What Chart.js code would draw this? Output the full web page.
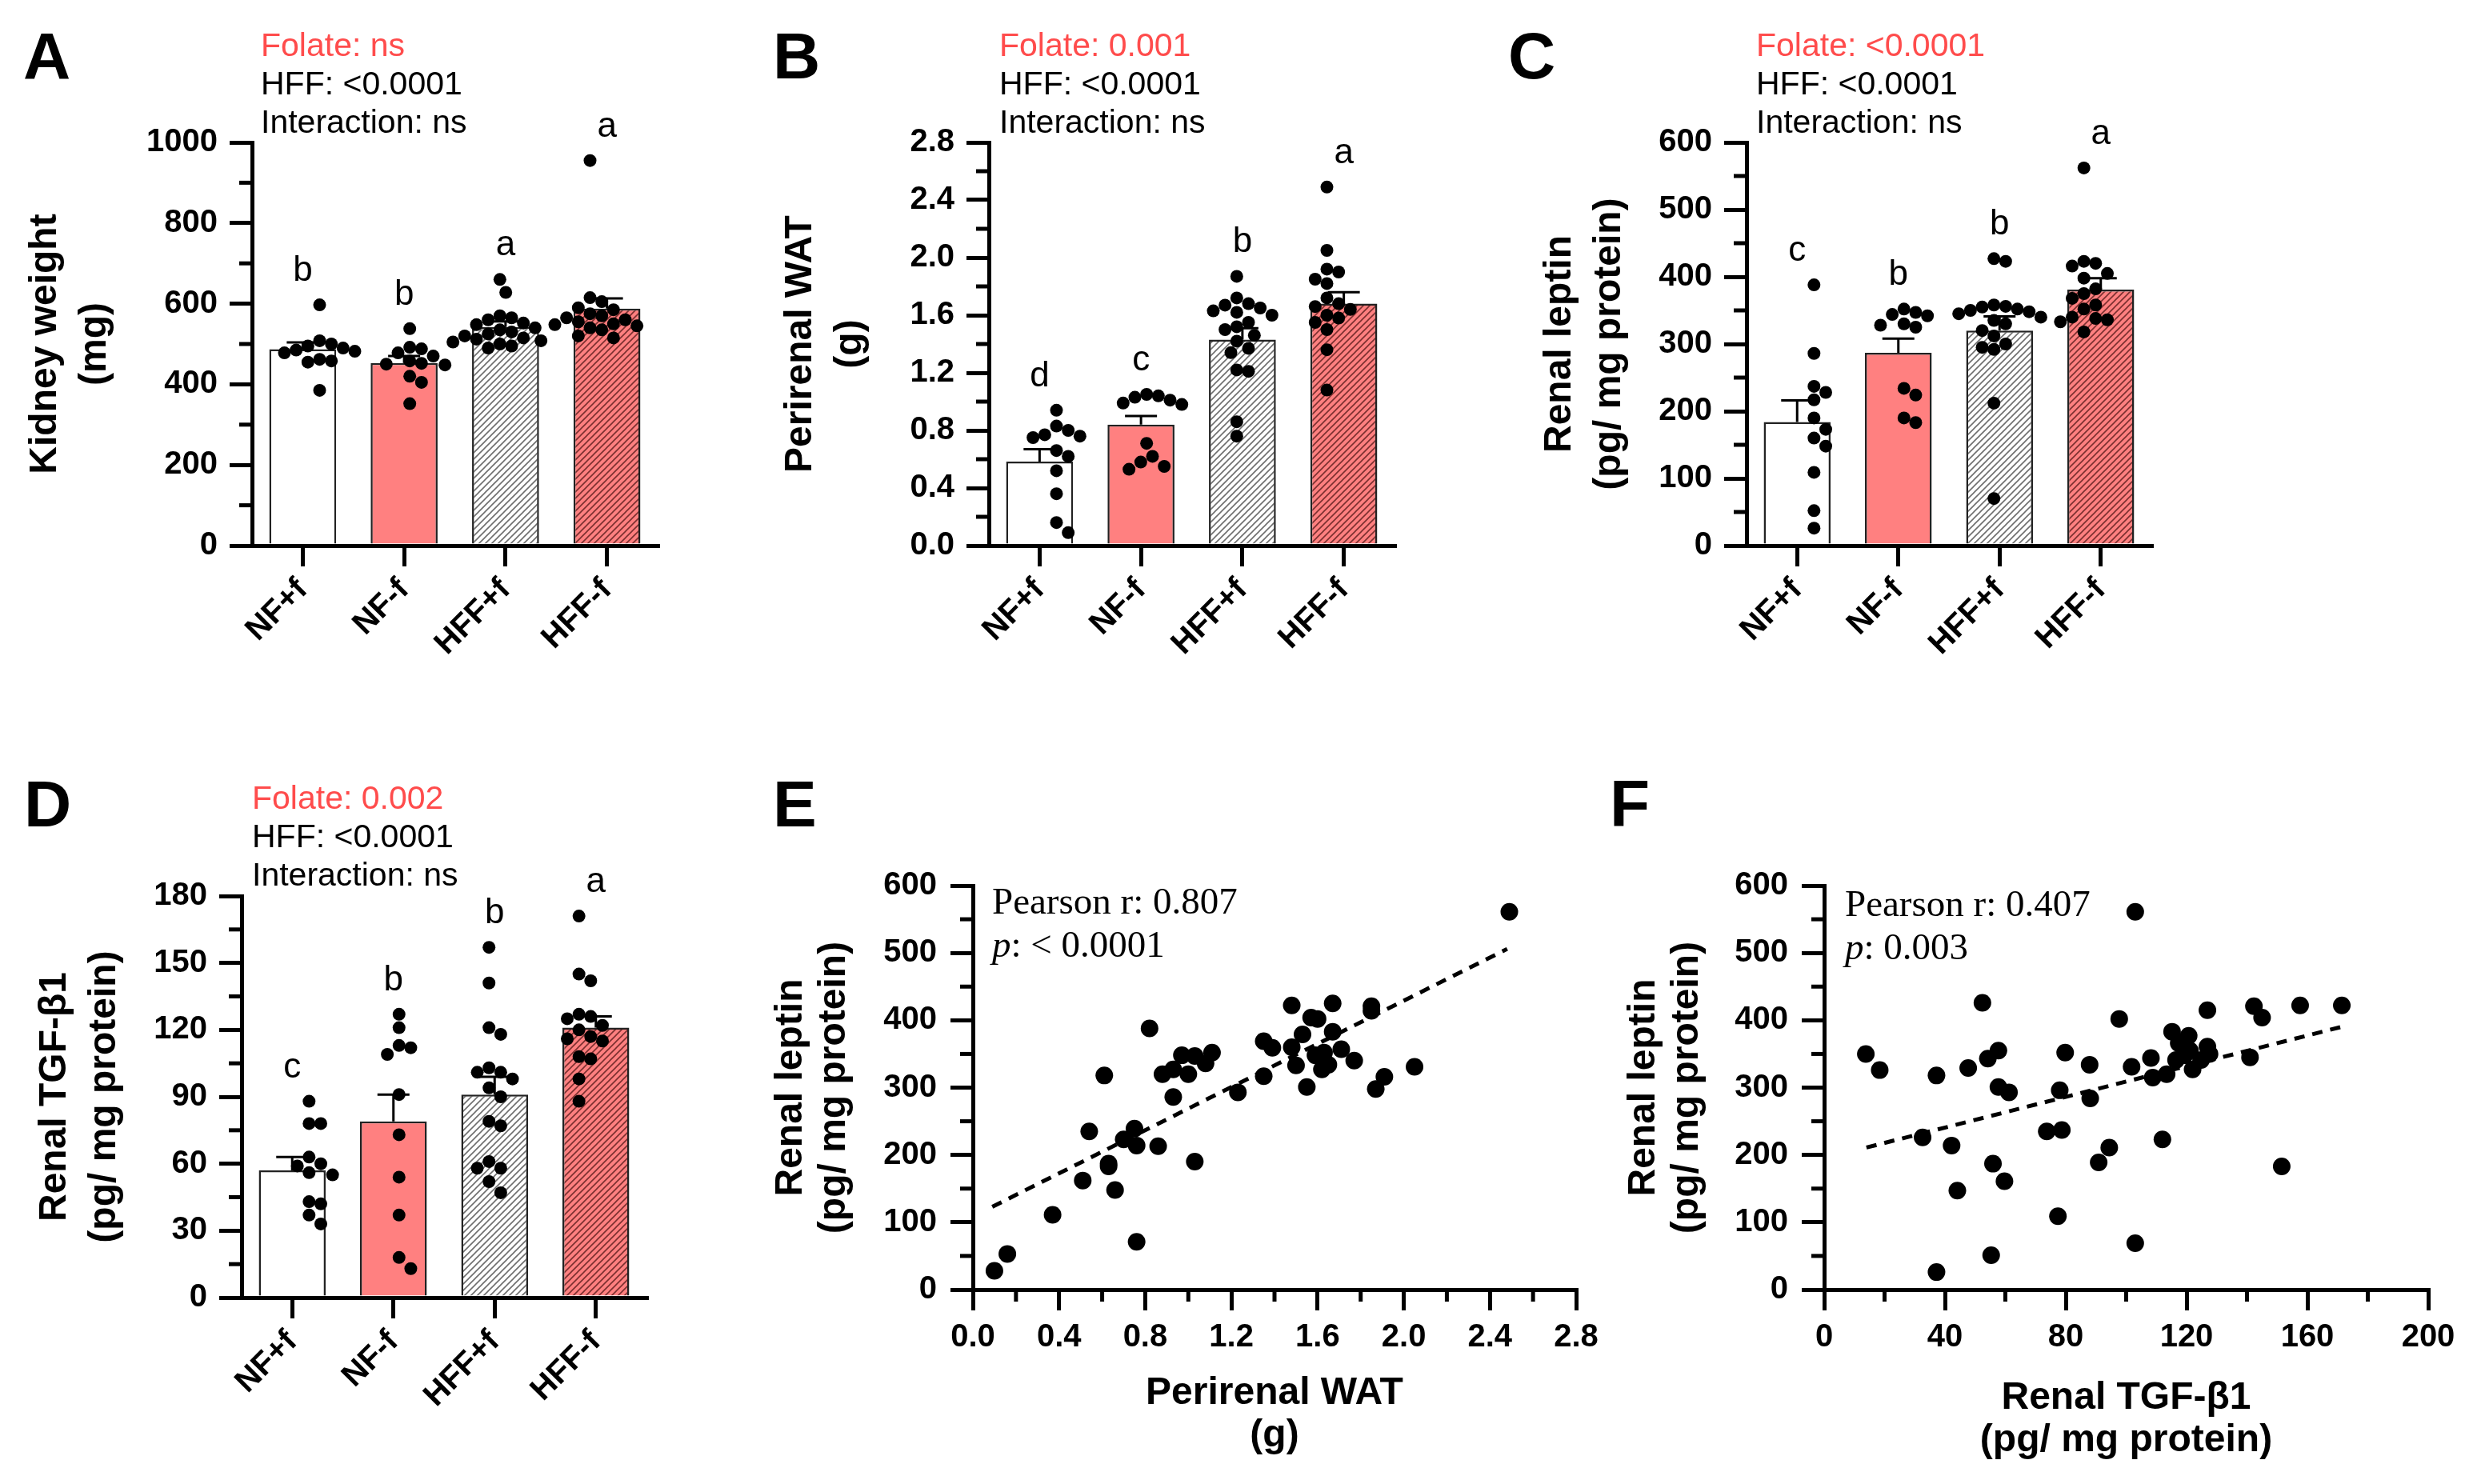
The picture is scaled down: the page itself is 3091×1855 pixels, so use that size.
<!DOCTYPE html>
<html>
<head>
<meta charset="utf-8">
<script src="https://cdn.jsdelivr.net/npm/chart.js@4.4.0/dist/chart.umd.min.js"></script>
<style>
html, body { margin: 0; padding: 0; background: #fff; }
body { width: 3091px; height: 1855px; position: relative; overflow: hidden; font-family: 'Liberation Sans', Arial, sans-serif; }
canvas { position: absolute; }
.lbl { position: absolute; font-weight: bold; font-size: 82px; line-height: 82px; color: #000; z-index: 2; }
.stats { position: absolute; font-size: 41px; line-height: 48px; color: #000; z-index: 2; white-space: nowrap; }
.stats .fol { color: #ff4c4c; }
.pear { position: absolute; font-family: 'Liberation Serif', 'Times New Roman', serif; font-size: 47px; line-height: 54px; color: #000; z-index: 2; white-space: nowrap; }
</style>
</head>
<body>
<div class="lbl" style="left:29px;top:29px">A</div>
<div class="lbl" style="left:966px;top:29px">B</div>
<div class="lbl" style="left:1885px;top:29px">C</div>
<div class="lbl" style="left:30px;top:964px">D</div>
<div class="lbl" style="left:966px;top:964px">E</div>
<div class="lbl" style="left:2012px;top:964px">F</div>

<div class="stats" style="left:326px;top:32px"><div class="fol">Folate: ns</div><div>HFF: &lt;0.0001</div><div>Interaction: ns</div></div>
<div class="stats" style="left:1249px;top:32px"><div class="fol">Folate: 0.001</div><div>HFF: &lt;0.0001</div><div>Interaction: ns</div></div>
<div class="stats" style="left:2195px;top:32px"><div class="fol">Folate: &lt;0.0001</div><div>HFF: &lt;0.0001</div><div>Interaction: ns</div></div>
<div class="stats" style="left:315px;top:973px"><div class="fol">Folate: 0.002</div><div>HFF: &lt;0.0001</div><div>Interaction: ns</div></div>

<div class="pear" style="left:1240px;top:1099px"><div>Pearson r: 0.807</div><div><i>p</i>: &lt; 0.0001</div></div>
<div class="pear" style="left:2306px;top:1102px"><div>Pearson r: 0.407</div><div><i>p</i>: 0.003</div></div>

<canvas id="cA"></canvas>
<canvas id="cB"></canvas>
<canvas id="cC"></canvas>
<canvas id="cD"></canvas>
<canvas id="cE"></canvas>
<canvas id="cF"></canvas>

<script>
const FONT = "'Liberation Sans', Arial, sans-serif";
const groups = ['NF+f', 'NF-f', 'HFF+f', 'HFF-f'];

// A - kidney weight (mg)
const kidneyMean = [487, 453, 542, 588];
const kidneySem = [17, 17, 14, 25];
const kidneyPts = [
    [597, 508, 500, 495, 490, 485, 482, 478, 462, 458, 455, 385],
    [538, 492, 488, 478, 470, 458, 452, 450, 448, 420, 405, 352],
    [660, 628, 570, 565, 560, 552, 548, 540, 535, 530, 525, 520, 515, 512, 508, 505, 500, 495, 490],
    [955, 615, 605, 590, 585, 575, 570, 565, 560, 555, 550, 548, 545, 540, 535, 520, 515]
];
const kidneyLetters = ['b', 'b', 'a', 'a'];

// B - perirenal WAT (g)
const watMean = [0.584, 0.84, 1.43, 1.68];
const watSem = [0.085, 0.06, 0.08, 0.08];
const watPts = [
    [0.94, 0.83, 0.80, 0.77, 0.76, 0.75, 0.66, 0.62, 0.52, 0.36, 0.16, 0.09],
    [1.05, 1.04, 1.03, 1.01, 0.99, 0.98, 0.71, 0.62, 0.58, 0.55, 0.53],
    [1.87, 1.72, 1.68, 1.67, 1.65, 1.63, 1.62, 1.60, 1.55, 1.52, 1.50, 1.46, 1.42, 1.37, 1.34, 1.22, 1.21, 0.86, 0.76],
    [2.49, 2.05, 1.92, 1.90, 1.85, 1.82, 1.72, 1.68, 1.66, 1.64, 1.60, 1.58, 1.55, 1.50, 1.36, 1.08]
];
const watLetters = ['d', 'c', 'b', 'a'];

// C - renal leptin (pg/mg protein)
const leptinMean = [184, 287, 320, 381];
const leptinSem = [32, 21, 21, 17];
const leptinPts = [
    [388, 286, 237, 228, 217, 190, 173, 160, 148, 109, 52, 26],
    [352, 347, 344, 342, 330, 328, 325, 234, 224, 190, 183],
    [427, 423, 358, 356, 355, 352, 350, 348, 345, 340, 335, 330, 320, 312, 300, 295, 292, 212, 70],
    [562, 423, 420, 416, 405, 398, 382, 375, 368, 358, 352, 340, 338, 336, 333, 318]
];
const leptinLetters = ['c', 'b', 'b', 'a'];

// D - renal TGF-b1 (pg/mg protein)
const tgfMean = [57, 79, 91, 121];
const tgfSem = [6, 12, 8, 5];
const tgfPts = [
    [88, 78, 78, 63, 60, 59, 56, 55, 43, 42, 37, 33],
    [127, 121, 113, 112, 109, 91, 73, 54, 37, 18, 13],
    [157, 141, 121, 118, 103, 101, 101, 98, 94, 90, 79, 77, 61, 58, 58, 52, 47],
    [171, 145, 142, 127, 126, 125, 122, 120, 117, 116, 115, 108, 107, 98, 88]
];
const tgfLetters = ['c', 'b', 'b', 'a'];

// E - perirenal WAT vs renal leptin
const eWat = [0.10, 0.16, 0.37, 0.51, 0.54, 0.61, 0.63, 0.63, 0.66, 0.70, 0.75, 0.76, 0.76, 0.82, 0.86, 0.88, 0.93, 0.93,
    0.97, 1.00, 1.03, 1.03, 1.08, 1.11, 1.23, 1.35, 1.35, 1.39, 1.48, 1.48, 1.50, 1.53, 1.55, 1.57, 1.60, 1.59, 1.62,
    1.63, 1.65, 1.67, 1.67, 1.71, 1.77, 1.85, 1.85, 1.87, 1.91, 2.05, 2.49];
const eLeptin = [28, 53, 111, 162, 235, 318, 187, 183, 148, 223, 239, 214, 71, 388, 213, 320, 286, 327,
    348, 320, 347, 190, 336, 352, 293, 317, 369, 359, 422, 360, 333, 379, 301, 404, 402, 348, 327,
    352, 334, 425, 383, 357, 340, 421, 414, 298, 316, 331, 561];
const eFitX = [0.09, 2.48];
const eFitY = [123, 506];

// F - renal TGF-b1 vs renal leptin
const fTgf = [13.8, 18.4, 32.6, 37.2, 37.2, 42.2, 44.1, 47.7, 52.4, 54.2, 55.3, 55.9, 57.7, 57.7, 59.7, 61.2, 73.7,
    77.4, 78.0, 78.7, 79.8, 87.9, 88.1, 90.9, 94.4, 97.7, 101.8, 103.0, 103.0, 108.2, 108.8, 112.0, 113.4, 115.2,
    116.5, 117.4, 119.3, 120.7, 121.1, 122.0, 124.8, 126.9, 126.9, 127.6, 141.0, 142.3, 145.0, 151.5, 157.6, 171.4];
const fLeptin = [350, 326, 226, 318, 26, 214, 147, 329, 426, 343, 51, 187, 355, 301, 161, 293, 235,
    109, 296, 237, 352, 334, 284, 189, 211, 402, 331, 561, 69, 344, 315, 223, 320, 383,
    341, 366, 348, 377, 355, 327, 341, 361, 415, 350, 345, 421, 404, 183, 422, 422];
const fFitX = [14, 172];
const fFitY = [211, 391];

Chart.defaults.font.family = FONT;
Chart.defaults.color = '#000';
const tickFont = { family: FONT, size: 40, weight: 'bold' };

function hatch(bg, line) {
    const s = 8, c = document.createElement('canvas');
    c.width = c.height = s;
    const g = c.getContext('2d');
    g.fillStyle = bg; g.fillRect(0, 0, s, s);
    g.strokeStyle = line; g.lineWidth = 1.6;
    g.beginPath();
    g.moveTo(0, s); g.lineTo(s, 0);
    g.moveTo(-s / 2, s / 2); g.lineTo(s / 2, -s / 2);
    g.moveTo(s / 2, s * 1.5); g.lineTo(s * 1.5, s / 2);
    g.stroke();
    return g.createPattern(c, 'repeat');
}
const fills = ['#ffffff', '#ff8080', hatch('#ffffff', '#6e6e6e'), hatch('#ff8080', '#7a2f2f')];

// spread dots sideways so they don't overlap (offsets in category units)
function swarm(vals, yMax, plotH, catW, d) {
    const py = vals.map(v => v / yMax * plotH);
    const idx = vals.map((v, i) => i).sort((a, b) => py[b] - py[a]);
    const off = vals.map(() => 0), done = [];
    idx.forEach(i => {
        for (let k = 0; k < 40; k++) {
            const c = (k % 2 ? 1 : -1) * Math.ceil(k / 2) * d / 2;
            if (done.every(j => Math.hypot(off[j] - c, py[j] - py[i]) >= d)) { off[i] = c; break; }
        }
        done.push(i);
    });
    return off.map(o => o / catW);
}

function fitCanvas(id, r, wy, hx) {
    const c = document.getElementById(id);
    const L = r.l - wy - 20, T = r.t - 90;
    c.width = (r.r + 60) - L;
    c.height = (r.b + hx + 20) - T;
    c.style.left = L + 'px';
    c.style.top = T + 'px';
    return c;
}

function minorTicks(yStep, xStep) {
    return {
        id: 'minorTicks',
        afterDraw(chart) {
            const ctx = chart.ctx;
            ctx.save(); ctx.strokeStyle = '#000'; ctx.lineWidth = 5;
            if (yStep) {
                const s = chart.scales.y;
                for (let k = 0; yStep * (2 * k + 1) < s.max; k++) {
                    const p = s.getPixelForValue(yStep * (2 * k + 1));
                    ctx.beginPath(); ctx.moveTo(s.right, p); ctx.lineTo(s.right - 16, p); ctx.stroke();
                }
            }
            if (xStep) {
                const s = chart.scales.x;
                for (let k = 0; xStep * (2 * k + 1) < s.max; k++) {
                    const p = s.getPixelForValue(xStep * (2 * k + 1));
                    ctx.beginPath(); ctx.moveTo(p, s.top); ctx.lineTo(p, s.top + 15); ctx.stroke();
                }
            }
            ctx.restore();
        }
    };
}

function errorBars(means, sems) {
    return {
        id: 'errorBars',
        afterDatasetDraw(chart, args) {
            if (args.index !== 0) return;
            const ctx = chart.ctx, x = chart.scales.x, y = chart.scales.y;
            ctx.save(); ctx.strokeStyle = '#000'; ctx.lineWidth = 3;
            means.forEach((m, i) => {
                const cx = x.getPixelForValue(i), y0 = y.getPixelForValue(m), y1 = y.getPixelForValue(m + sems[i]);
                ctx.beginPath();
                ctx.moveTo(cx, y0); ctx.lineTo(cx, y1);
                ctx.moveTo(cx - 20, y1); ctx.lineTo(cx + 20, y1);
                ctx.stroke();
            });
            ctx.restore();
        }
    };
}

function groupLetters(letters, pts, means, sems) {
    return {
        id: 'groupLetters',
        afterDraw(chart) {
            const ctx = chart.ctx, x = chart.scales.x, y = chart.scales.y;
            ctx.save();
            ctx.font = '44px ' + FONT; ctx.fillStyle = '#000';
            ctx.textAlign = 'center'; ctx.textBaseline = 'alphabetic';
            letters.forEach((t, i) => {
                const top = Math.max(...pts[i], means[i] + sems[i]);
                ctx.fillText(t, x.getPixelForValue(i), y.getPixelForValue(top) - 30);
            });
            ctx.restore();
        }
    };
}

function yAxis(max, step, wy, title, lh, pad, fmt) {
    return {
        min: 0, max: max,
        ticks: { stepSize: step, font: tickFont, color: '#000', padding: pad, callback: fmt },
        grid: { drawOnChartArea: false, tickLength: 28, tickWidth: 5, tickColor: '#000', lineWidth: 5, color: '#000' },
        border: { width: 5, color: '#000' },
        title: { display: true, text: title, color: '#000', padding: 0, font: { family: FONT, size: 48, weight: 'bold', lineHeight: lh } },
        afterFit(s) { s.width = wy; }
    };
}

function barPanel(id, r, wy, yMax, yStep, means, sems, pts, letters, title, fmt) {
    const hx = 200;
    const canvas = fitCanvas(id, r, wy, hx);
    const catW = (r.r - r.l) / 4;
    const dots = [];
    pts.forEach((g, i) => {
        const offs = swarm(g, yMax, r.b - r.t, catW, 16.5);
        g.forEach((v, k) => dots.push({ x: i + offs[k], y: v }));
    });
    new Chart(canvas, {
        type: 'bar',
        data: {
            labels: groups,
            datasets: [
                { data: means, backgroundColor: fills, borderColor: '#222', borderWidth: 2.5, barPercentage: 0.66, categoryPercentage: 1, grouped: false, order: 2 },
                { type: 'scatter', data: dots, xAxisID: 'xs', yAxisID: 'y', pointRadius: 8, backgroundColor: '#000', borderWidth: 0, order: 1 }
            ]
        },
        options: {
            responsive: false, animation: false, devicePixelRatio: 1, events: [],
            layout: { padding: { left: 20, top: 90, right: 60, bottom: 20 } },
            plugins: { legend: { display: false }, tooltip: { enabled: false } },
            scales: {
                x: {
                    type: 'category', offset: true,
                    grid: { offset: false, drawOnChartArea: false, tickLength: 26, tickWidth: 5, tickColor: '#000', lineWidth: 5, color: '#000' },
                    border: { width: 5, color: '#000' },
                    ticks: { font: tickFont, color: '#000', minRotation: 45, maxRotation: 45, autoSkip: false, padding: 6 },
                    afterFit(s) { s.height = hx; }
                },
                xs: { type: 'linear', display: false, min: -0.5, max: 3.5 },
                y: yAxis(yMax, yStep, wy, title, 1.29, 15, fmt)
            }
        },
        plugins: [minorTicks(yStep / 2, 0), errorBars(means, sems), groupLetters(letters, pts, means, sems)]
    });
}

function scatterPanel(id, r, wy, hx, xs, ys, fitX, fitY, xMax, xStep, xTitle, xFmt) {
    const canvas = fitCanvas(id, r, wy, hx);
    new Chart(canvas, {
        type: 'scatter',
        data: {
            datasets: [
                { data: xs.map((v, i) => ({ x: v, y: ys[i] })), pointRadius: 11, backgroundColor: '#000', borderWidth: 0, order: 1 },
                { data: fitX.map((v, i) => ({ x: v, y: fitY[i] })), showLine: true, borderColor: '#000', borderWidth: 5, borderDash: [13, 10], pointRadius: 0, order: 2 }
            ]
        },
        options: {
            responsive: false, animation: false, devicePixelRatio: 1, events: [],
            layout: { padding: { left: 20, top: 90, right: 60, bottom: 20 } },
            plugins: { legend: { display: false }, tooltip: { enabled: false } },
            scales: {
                x: {
                    type: 'linear', min: 0, max: xMax,
                    ticks: { stepSize: xStep, font: tickFont, color: '#000', padding: 10, callback: xFmt },
                    grid: { drawOnChartArea: false, tickLength: 26, tickWidth: 5, tickColor: '#000', lineWidth: 5, color: '#000' },
                    border: { width: 5, color: '#000' },
                    title: { display: true, text: xTitle, color: '#000', padding: 0, font: { family: FONT, size: 48, weight: 'bold', lineHeight: 1.1 } },
                    afterFit(s) { s.height = hx; }
                },
                y: yAxis(600, 100, wy, ['Renal leptin', '(pg/ mg protein)'], 1.12, 17)
            }
        },
        plugins: [minorTicks(50, xStep / 2)]
    });
}

const oneDec = v => v.toFixed(1);

barPanel('cA', { l: 315, r: 822, t: 178, b: 682 }, 289, 1000, 200, kidneyMean, kidneySem, kidneyPts, kidneyLetters, ['Kidney weight', '(mg)']);
barPanel('cB', { l: 1236, r: 1743, t: 178, b: 682 }, 266, 2.8, 0.4, watMean, watSem, watPts, watLetters, ['Perirenal WAT', '(g)'], oneDec);
barPanel('cC', { l: 2183, r: 2689, t: 178, b: 682 }, 264, 600, 100, leptinMean, leptinSem, leptinPts, leptinLetters, ['Renal leptin', '(pg/ mg protein)']);
barPanel('cD', { l: 302, r: 808, t: 1120, b: 1622 }, 264, 180, 30, tgfMean, tgfSem, tgfPts, tgfLetters, ['Renal TGF-β1', '(pg/ mg protein)']);
scatterPanel('cE', { l: 1216, r: 1970, t: 1107, b: 1612 }, 254, 209, eWat, eLeptin, eFitX, eFitY, 2.8, 0.4, ['Perirenal WAT', '(g)'], oneDec);
scatterPanel('cF', { l: 2280, r: 3035, t: 1107, b: 1612 }, 252, 215, fTgf, fLeptin, fFitX, fFitY, 200, 40, ['Renal TGF-β1', '(pg/ mg protein)']);
</script>
</body>
</html>
